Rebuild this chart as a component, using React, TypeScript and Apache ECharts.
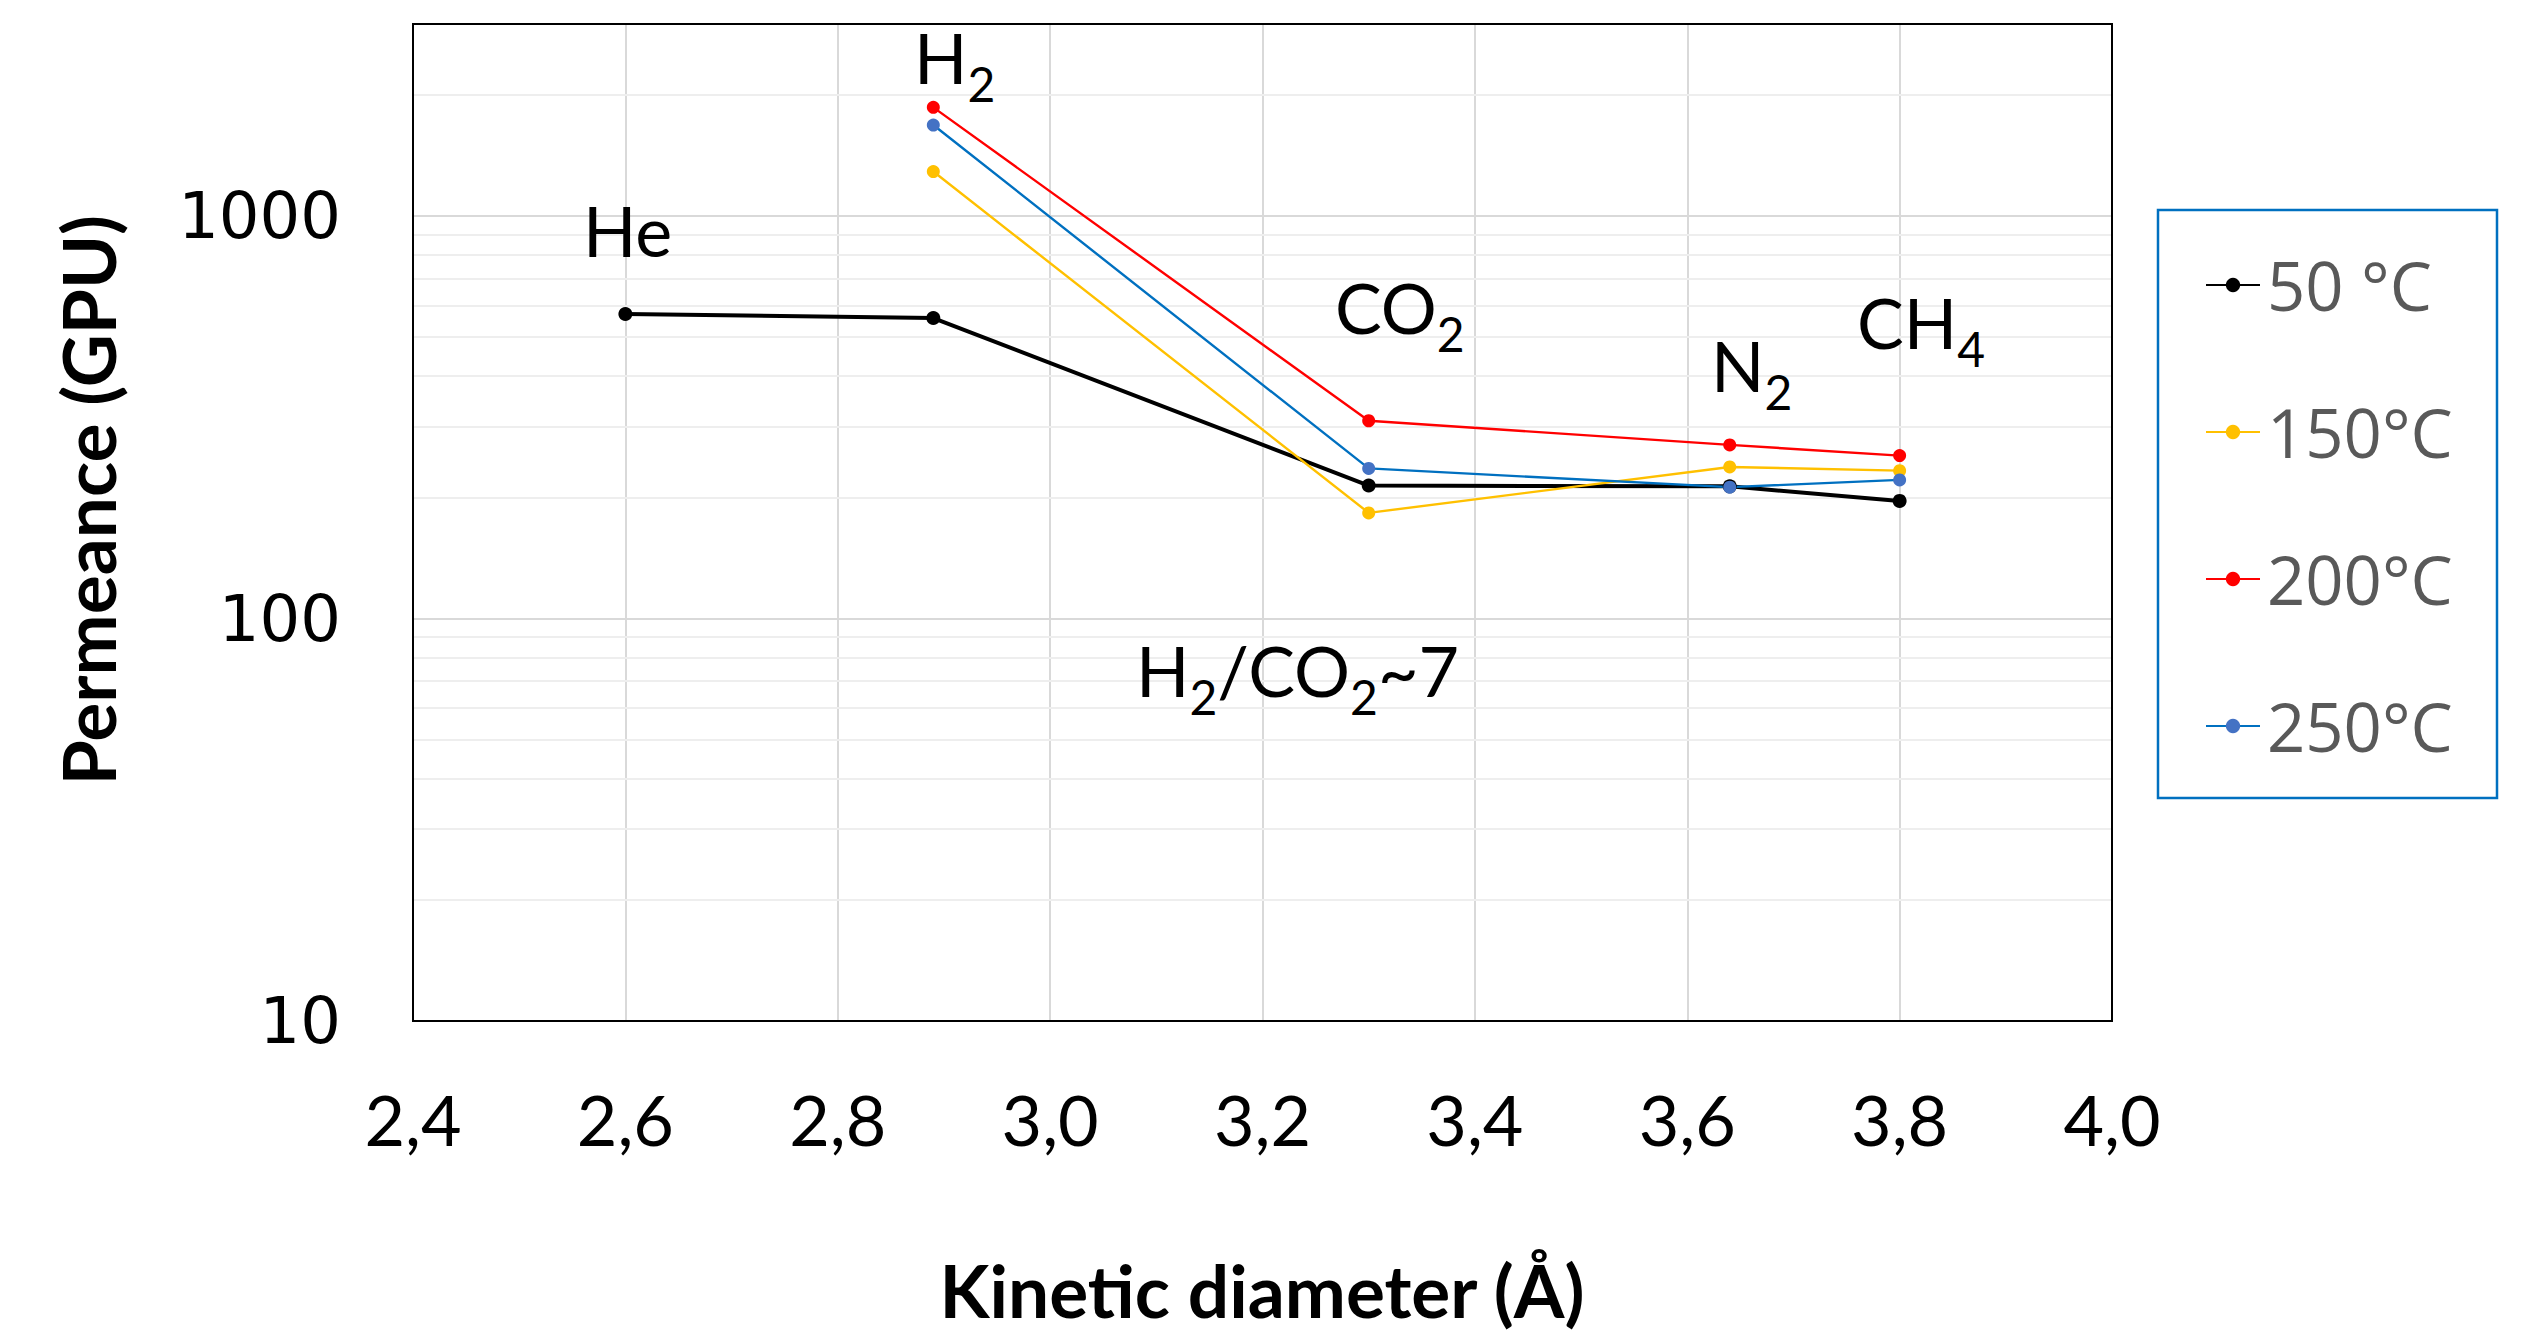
import React, { useEffect, useRef } from 'react';
import * as echarts from 'echarts';

// ---- data ----
const gases = ['He', 'H2', 'CO2', 'N2', 'CH4'];
const kineticDiameter = [2.6, 2.89, 3.3, 3.64, 3.8];
const perm50C = [571, 558, 214, 213, 196];
const perm150C = [null, 1290, 183, 238, 233];
const perm200C = [null, 1862, 310, 270, 254];
const perm250C = [null, 1683, 236, 212, 221];
const seriesNames = ['50 °C', '150°C', '200°C', '250°C'];
const yTickLabels = [10, 100, 1000];
const yMinorGrid = [20, 30, 40, 50, 60, 70, 80, 90, 200, 300, 400, 500, 600, 700, 800, 900, 2000];
const xMin = 2.4;
const xMax = 4.0;
const xStep = 0.2;
const yMin = 10;
const yMax = 3000;

const toPoints = (vals: (number | null)[]) =>
  kineticDiameter
    .map((x, i) => (vals[i] == null ? null : [x, vals[i]]))
    .filter((p) => p !== null);

const makeSeries = (
  name: string,
  vals: (number | null)[],
  lineColor: string,
  markerColor: string,
  width: number,
  size: number
) => ({
  name,
  type: 'line',
  data: toPoints(vals),
  symbol: 'circle',
  symbolSize: size,
  showSymbol: true,
  lineStyle: { color: lineColor, width },
  itemStyle: { color: markerColor },
  z: 3,
});

const annoRich = {
  m: { fontFamily: 'Lato', fontSize: 70, lineHeight: 70, fill: '#000' },
  s: {
    fontFamily: 'Lato',
    fontSize: 48,
    lineHeight: 18,
    verticalAlign: 'top',
    padding: [37, 0, 0, 0],
    fill: '#000',
  },
};

const annotations = [
  { text: '{m|He}', x: 583, y: 230 },
  { text: '{m|H}{s|2}', x: 914, y: 57 },
  { text: '{m|CO}{s|2}', x: 1335, y: 307 },
  { text: '{m|N}{s|2}', x: 1711, y: 365 },
  { text: '{m|CH}{s|4}', x: 1857, y: 322 },
  { text: '{m|H}{s|2}{m|/CO}{s|2}{m|~7}', x: 1136, y: 670 },
];

export default function App() {
  const ref = useRef<HTMLDivElement>(null);
  useEffect(() => {
    document.body.style.margin = '0';
    if (!ref.current) return;
    const chart = echarts.init(ref.current, undefined, { renderer: 'svg' });
    const option: any = {
      animation: false,
      backgroundColor: '#fff',
      grid: {
        left: 413,
        top: 24,
        width: 1699,
        height: 997,
        show: true,
        borderColor: '#000',
        borderWidth: 2,
        backgroundColor: 'transparent',
        z: 4,
      },
      xAxis: {
        type: 'value',
        min: xMin,
        max: xMax,
        interval: xStep,
        axisLine: { show: true, lineStyle: { color: '#000', width: 2 } },
        axisTick: { show: false },
        axisLabel: {
          fontFamily: 'Lato',
          fontSize: 70,
          color: '#000',
          margin: 63,
          formatter: (v: number) => v.toFixed(1).replace('.', ','),
        },
        splitLine: { show: true, lineStyle: { color: '#d9d9d9', width: 2 } },
      },
      yAxis: {
        type: 'log',
        logBase: 10,
        min: yMin,
        max: yMax,
        interval: 1,
        axisLine: { show: true, lineStyle: { color: '#000', width: 2 } },
        axisTick: { show: false },
        axisLabel: {
          fontFamily: 'DejaVu Sans',
          fontSize: 64,
          color: '#000',
          margin: 72,
          showMaxLabel: false,
          formatter: (v: number) => {
            const r = Math.round(v);
            return yTickLabels.includes(r) ? String(r) : '';
          },
        },
        splitLine: { show: true, lineStyle: { color: '#d9d9d9', width: 2 } },
      },
      legend: {
        orient: 'vertical',
        left: 2205,
        top: 245,
        padding: 0,
        itemWidth: 54,
        itemHeight: 18,
        itemGap: 67,
        data: seriesNames,
        textStyle: { fontFamily: 'Open Sans', fontSize: 67, color: '#595959', lineHeight: 80, padding: [0, 0, 0, 2] },
      },
      series: [
        {
          name: 'minor-grid',
          type: 'line',
          data: [[xMin, yMin]],
          symbol: 'none',
          lineStyle: { opacity: 0 },
          silent: true,
          z: 1,
          markLine: {
            silent: true,
            z: 1,
            symbol: 'none',
            label: { show: false },
            lineStyle: { color: '#eeeeee', width: 2, type: 'solid' },
            data: yMinorGrid.map((v) => ({ yAxis: v })),
          },
        },
        makeSeries(seriesNames[0], perm50C, '#000000', '#000000', 4, 14),
        makeSeries(seriesNames[1], perm150C, '#FFC000', '#FFC000', 2.4, 13),
        makeSeries(seriesNames[2], perm200C, '#FF0000', '#FF0000', 2.4, 13),
        makeSeries(seriesNames[3], perm250C, '#0070C0', '#4472C4', 2.4, 13),
      ],
      graphic: [
        {
          type: 'rect',
          shape: { x: 2158, y: 210, width: 339, height: 588 },
          style: { fill: 'none', stroke: '#0070C0', lineWidth: 2.5 },
          silent: true,
        },
        {
          type: 'text',
          x: 88,
          y: 500,
          rotation: Math.PI / 2,
          style: {
            text: 'Permeance (GPU)',
            fontFamily: 'Lato',
            fontWeight: 'bold',
            fontSize: 73,
            fill: '#000',
            align: 'center',
            verticalAlign: 'middle',
          },
        },
        {
          type: 'text',
          x: 1262,
          y: 1290,
          style: {
            text: 'Kinetic diameter (Å)',
            fontFamily: 'Lato',
            fontWeight: 'bold',
            fontSize: 73,
            fill: '#000',
            align: 'center',
            verticalAlign: 'middle',
          },
        },
        ...annotations.map((a) => ({
          type: 'text',
          x: a.x,
          y: a.y,
          z: 10,
          style: {
            text: a.text,
            rich: annoRich,
            align: 'left',
            verticalAlign: 'middle',
          },
        })),
      ],
    };
    chart.setOption(option);
    return () => chart.dispose();
  }, []);
  return <div ref={ref} style={{ width: 2538, height: 1333 }} data-gases={gases.join(',')} />;
}
